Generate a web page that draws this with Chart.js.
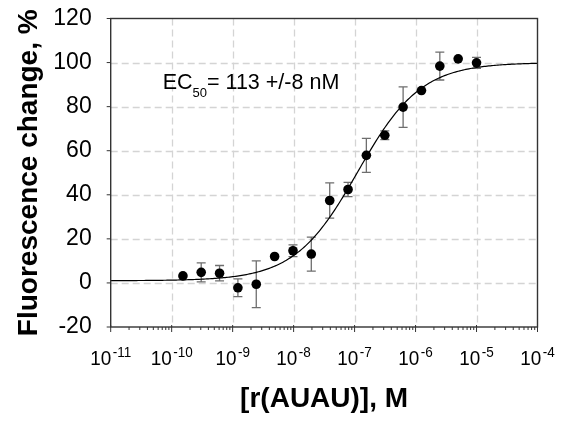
<!DOCTYPE html>
<html>
<head>
<meta charset="utf-8">
<script src="https://cdn.jsdelivr.net/npm/chart.js@4.4.1/dist/chart.umd.min.js"></script>
<style>
  html, body { margin: 0; padding: 0; background: #ffffff; }
  canvas { display: block; }
</style>
</head>
<body>
<canvas id="chart" width="566" height="423"></canvas>
<script>
// r(AUAU) titration: concentration (M) against fluorescence change (%)
const concentrations = [1.53e-10, 3.05e-10, 6.1e-10, 1.22e-9, 2.44e-9, 4.88e-9, 9.77e-9,
  1.95e-8, 3.91e-8, 7.81e-8, 1.56e-7, 3.13e-7, 6.25e-7, 1.25e-6, 2.5e-6, 5e-6, 1e-5];
const fluorescence = [3.2, 4.8, 4.4, -2.2, -0.6, 12.0, 14.6, 13.1, 37.4, 42.4, 57.9, 67.0,
  79.8, 87.3, 98.4, 101.7, 99.9];
// standard deviations (null where the bar hides behind the marker)
const errors = [null, 4.3, 3.5, 4.0, 10.6, null, 2.7, 7.7, 8.0, 3.2, 7.7, 2.0,
  9.2, null, 6.3, null, 2.5];

const xDecades = [1e-11, 1e-10, 1e-9, 1e-8, 1e-7, 1e-6, 1e-5, 1e-4];
const yTickValues = [-20, 0, 20, 40, 60, 80, 100, 120];

// four-parameter logistic fit
const fitBottom = 1.0;
const fitTop = 100.0;
const fitEC50 = 113e-9;   // M
const fitEC50Error = 8e-9;
const fitHill = 0.84;

const FONT = '"Liberation Sans", Arial, Helvetica, sans-serif';

function logistic(x) {
  return fitBottom + (fitTop - fitBottom) / (1 + Math.pow(fitEC50 / x, fitHill));
}
const curvePoints = [];
for (let i = 0; i <= 280; i++) {
  const x = Math.pow(10, -11 + i * 7 / 280);
  curvePoints.push({ x: x, y: logistic(x) });
}

const measuredPoints = concentrations.map((c, i) => ({ x: c, y: fluorescence[i] }));

const axisPlugin = {
  id: 'axisDecor',
  beforeDatasetsDraw(chart) {
    const { ctx, chartArea: a, scales: { x, y } } = chart;
    ctx.save();
    // dashed grid
    ctx.strokeStyle = '#d4d4d4';
    ctx.lineWidth = 1.3;
    ctx.setLineDash([7, 4]);
    ctx.beginPath();
    xDecades.slice(1, -1).forEach(d => {
      const px = Math.round(x.getPixelForValue(d)) + 0.5;
      ctx.moveTo(px, a.top); ctx.lineTo(px, a.bottom);
    });
    yTickValues.slice(1, -1).forEach(v => {
      const py = Math.round(y.getPixelForValue(v)) + 0.5;
      ctx.moveTo(a.left, py); ctx.lineTo(a.right, py);
    });
    ctx.stroke();
    ctx.setLineDash([]);

    // error bars
    ctx.strokeStyle = '#6e6e6e';
    ctx.lineWidth = 1.3;
    ctx.beginPath();
    errors.forEach((e, i) => {
      if (e === null) return;
      const px = x.getPixelForValue(concentrations[i]);
      const top = y.getPixelForValue(fluorescence[i] + e);
      const bot = y.getPixelForValue(fluorescence[i] - e);
      ctx.moveTo(px, top); ctx.lineTo(px, bot);
      ctx.moveTo(px - 4.5, top); ctx.lineTo(px + 4.5, top);
      ctx.moveTo(px - 4.5, bot); ctx.lineTo(px + 4.5, bot);
    });
    ctx.stroke();
    ctx.restore();
  },
  afterDraw(chart) {
    const { ctx, chartArea: a, scales: { x, y } } = chart;
    ctx.save();
    // frame
    ctx.strokeStyle = '#333333';
    ctx.lineWidth = 1.4;
    ctx.strokeRect(a.left, a.top, a.right - a.left, a.bottom - a.top);
    // y ticks
    ctx.beginPath();
    yTickValues.forEach(v => {
      const py = y.getPixelForValue(v);
      ctx.moveTo(a.left - 4, py); ctx.lineTo(a.left, py);
    });
    // x ticks, major and minor
    xDecades.forEach((d, k) => {
      const px = x.getPixelForValue(d);
      ctx.moveTo(px, a.bottom - 2); ctx.lineTo(px, a.bottom + 5);
      if (k < xDecades.length - 1) {
        for (let m = 2; m <= 9; m++) {
          const pm = x.getPixelForValue(d * m);
          ctx.moveTo(pm, a.bottom); ctx.lineTo(pm, a.bottom + 3);
        }
      }
    });
    ctx.lineWidth = 1;
    ctx.stroke();

    // x tick labels: 10 with superscript exponent, set slightly condensed
    ctx.fillStyle = '#000000';
    ctx.textBaseline = 'alphabetic';
    ctx.textAlign = 'left';
    const sx = 0.9;
    xDecades.forEach(d => {
      const px = x.getPixelForValue(d);
      const base = '10';
      const sup = String(Math.round(Math.log10(d)));
      ctx.font = '21px ' + FONT;
      const w1 = ctx.measureText(base).width * sx;
      ctx.font = '15px ' + FONT;
      const w2 = ctx.measureText(sup).width * sx;
      const x0 = px - (w1 + 1.5 + w2) / 2;
      ctx.save();
      ctx.translate(x0, a.bottom + 38);
      ctx.scale(sx, 1);
      ctx.font = '21px ' + FONT;
      ctx.fillText(base, 0, 0);
      ctx.restore();
      ctx.save();
      ctx.translate(x0 + w1 + 1.5, a.bottom + 29.5);
      ctx.scale(sx, 1);
      ctx.font = '15px ' + FONT;
      ctx.fillText(sup, 0, 0);
      ctx.restore();
    });

    // EC50 annotation
    let tx = a.left + 52;
    const ty = a.top + 70;
    ctx.font = '21.5px ' + FONT;
    ctx.fillText('EC', tx, ty);
    tx += ctx.measureText('EC').width;
    ctx.font = '13px ' + FONT;
    ctx.fillText('50', tx, ty + 8);
    tx += ctx.measureText('50').width;
    ctx.font = '21.5px ' + FONT;
    const ec = Math.round(fitEC50 * 1e9), ee = Math.round(fitEC50Error * 1e9);
    ctx.fillText('= ' + ec + ' +/-' + ee + ' nM', tx, ty);
    ctx.restore();
  }
};

new Chart(document.getElementById('chart'), {
  type: 'scatter',
  data: {
    datasets: [
      {
        data: measuredPoints,
        pointRadius: 4.8,
        pointBackgroundColor: '#000000',
        pointBorderWidth: 0,
        showLine: false
      },
      {
        data: curvePoints,
        showLine: true,
        pointRadius: 0,
        borderColor: '#000000',
        borderWidth: 1.2,
        tension: 0
      }
    ]
  },
  options: {
    responsive: false,
    animation: false,
    events: [],
    layout: { padding: { top: 18.5, right: 28.5, left: 0, bottom: 0 } },
    plugins: { legend: { display: false }, tooltip: { enabled: false } },
    scales: {
      x: {
        type: 'logarithmic',
        min: 1e-11,
        max: 1e-4,
        afterBuildTicks(scale) { scale.ticks = xDecades.map(v => ({ value: v })); },
        afterFit(scale) {
          scale.height = 96;
          scale.paddingLeft = 0; scale.paddingRight = 0;
        },
        ticks: { display: false },
        grid: { display: false },
        border: { display: false },
        title: {
          display: true,
          text: '[r(AUAU)], M',
          color: '#000000',
          font: { family: FONT, size: 28, weight: 'bold' },
          padding: { top: 0, bottom: 6.5 }
        }
      },
      y: {
        min: -20,
        max: 120,
        afterBuildTicks(scale) { scale.ticks = yTickValues.map(v => ({ value: v })); },
        afterFit(scale) {
          scale.width = 110.7;
          scale.paddingTop = 0; scale.paddingBottom = 0;
        },
        ticks: { color: '#000000', font: { family: FONT, size: 23 }, padding: 19 },
        grid: { display: false, drawTicks: false },
        border: { display: false },
        title: {
          display: true,
          text: 'Fluorescence change, %',
          color: '#000000',
          font: { family: FONT, size: 28, weight: 'bold' },
          padding: { top: 12, bottom: 0 }
        }
      }
    }
  },
  plugins: [axisPlugin]
});
</script>
</body>
</html>
